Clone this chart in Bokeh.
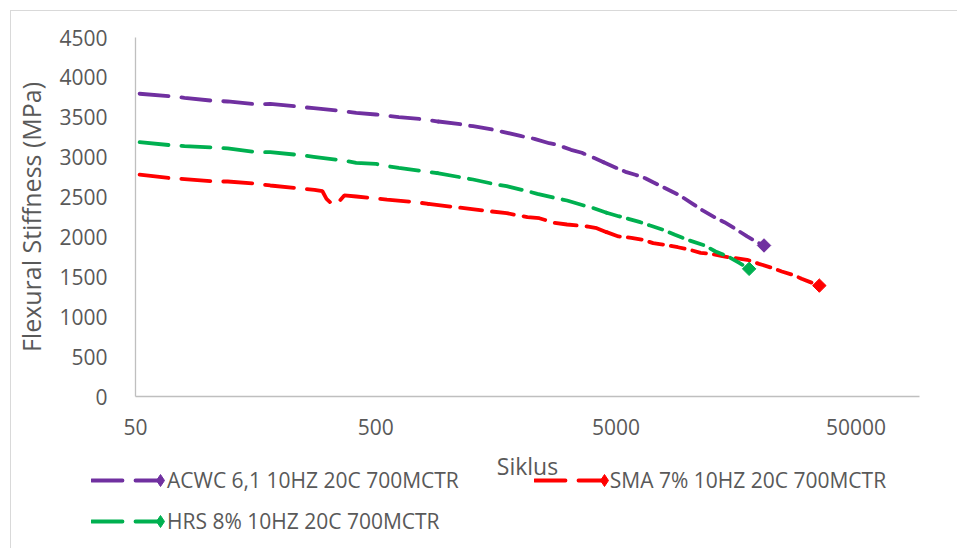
import numpy as np
from bokeh.plotting import figure
from bokeh.layouts import column
from bokeh.models import (Legend, LegendItem, FixedTicker, Range1d,
                          NumeralTickFormatter)
from bokeh.embed import file_html
from bokeh.resources import INLINE

# Flexural stiffness (MPa) against load cycles (siklus), 10 Hz, 20 C, 700 microstrain
acwc_cycles = [52, 70, 80, 105, 121, 161, 182, 235, 276, 367, 415, 501, 624, 806,
               912, 1123, 1271, 1522, 1689, 2023, 2289, 2639, 2847, 3252, 3608,
               4043, 4444, 5124, 5530, 6022, 6621, 7144, 7856, 9230, 10440, 11480,
               12860, 14140, 15700, 17590, 19350, 20680]
acwc_stiffness = [3795, 3764, 3744, 3707, 3698, 3660, 3669, 3635, 3614, 3576, 3556,
                  3535, 3501, 3472, 3447, 3413, 3388, 3347, 3318, 3263, 3230, 3175,
                  3155, 3092, 3055, 2992, 2937, 2854, 2812, 2779, 2736, 2686, 2624,
                  2520, 2415, 2332, 2248, 2185, 2102, 2006, 1934, 1893]

sma_cycles = [52, 70, 80, 107, 121, 161, 182, 242, 278, 300, 312, 324, 343, 370, 415,
              487, 557, 733, 829, 1071, 1235, 1522, 1755, 2141, 2400, 2767, 3129,
              3784, 4161, 4574, 5124, 5799, 6496, 7144, 7856, 9056, 10150, 11260,
              12380, 13870, 15260, 17590, 19710, 22300, 24520, 27740, 29650, 35150]
sma_stiffness = [2780, 2736, 2724, 2695, 2695, 2666, 2645, 2607, 2591, 2573, 2478,
                 2432, 2407, 2520, 2507, 2486, 2469, 2436, 2415, 2373, 2353, 2319,
                 2298, 2248, 2235, 2177, 2156, 2131, 2110, 2060, 2006, 1989, 1964,
                 1922, 1905, 1871, 1839, 1801, 1789, 1759, 1739, 1714, 1663, 1613,
                 1567, 1517, 1475, 1390]

hrs_cycles = [52, 70, 80, 107, 121, 161, 182, 235, 276, 367, 415, 501, 552, 624, 791,
              903, 1123, 1271, 1566, 1755, 2082, 2355, 2767, 3129, 3678, 4043, 4574,
              5124, 5635, 6313, 6943, 7856, 8804, 10150, 11700, 12990, 14830, 16310,
              17930]
hrs_stiffness = [3188, 3150, 3138, 3121, 3109, 3062, 3062, 3030, 3005, 2958, 2929,
                 2915, 2890, 2867, 2824, 2799, 2749, 2720, 2661, 2636, 2582, 2541,
                 2491, 2457, 2394, 2360, 2303, 2260, 2227, 2185, 2143, 2090, 2027,
                 1955, 1893, 1818, 1746, 1676, 1600]

series_names = ["ACWC 6,1 10HZ 20C 700MCTR", "SMA 7% 10HZ 20C 700MCTR",
                "HRS 8% 10HZ 20C 700MCTR"]
series_colors = ["#7030A0", "#FF0000", "#00B050"]
series_data = [(acwc_cycles, acwc_stiffness), (sma_cycles, sma_stiffness),
               (hrs_cycles, hrs_stiffness)]
x_ticks = [50, 500, 5000, 50000]
y_ticks = [0, 500, 1000, 1500, 2000, 2500, 3000, 3500, 4000, 4500]

TEXT = "#595959"
AXIS = "#BFBFBF"
FONT = "Open Sans"
LINE_W = 3.8
MARK = 9.5

p = figure(width=947, height=538, x_axis_type="log",
           x_range=Range1d(50, 91800), y_range=Range1d(0, 4500),
           output_backend="svg", toolbar_location=None,
           min_border_left=116, min_border_right=39,
           min_border_top=26, min_border_bottom=153)
p.styles = {"border-left": "1px solid #d9d9d9", "border-top": "1px solid #d9d9d9"}
p.background_fill_color = "white"
p.border_fill_color = "white"
p.outline_line_color = None
p.grid.visible = False

for ax in (p.xaxis[0], p.yaxis[0]):
    ax.axis_line_color = AXIS
    ax.axis_line_width = 1.3
    ax.major_tick_line_color = None
    ax.minor_tick_line_color = None
    ax.major_label_text_font = FONT
    ax.major_label_text_font_size = "21px"
    ax.major_label_text_color = TEXT
    ax.axis_label_text_font = FONT
    ax.axis_label_text_font_style = "normal"
    ax.axis_label_text_color = TEXT

p.xaxis.ticker = FixedTicker(ticks=x_ticks, minor_ticks=[])
p.xaxis.formatter = NumeralTickFormatter(format="0")
p.xaxis.major_label_standoff = 16
p.xaxis.axis_label = "Siklus"
p.xaxis.axis_label_text_font_size = "23px"
p.xaxis.axis_label_standoff = 12

p.yaxis.ticker = FixedTicker(ticks=y_ticks, minor_ticks=[])
p.yaxis.major_label_standoff = 22
p.yaxis.axis_label = "Flexural Stiffness (MPa)"
p.yaxis.axis_label_text_font_size = "25px"
p.yaxis.axis_label_standoff = 8

# dash pattern tightens where the record gets dense on the log scale
pieces = [(0, 1000, "29 13"), (1000, 5000, "22 10"), (5000, 1e9, "14 8")]

def draw(cycles, stiffness, color):
    cyc = np.asarray(cycles, dtype=float)
    stf = np.asarray(stiffness, dtype=float)
    for lo, hi, dash in pieces:
        idx = np.where((cyc >= lo) & (cyc < hi))[0]
        if len(idx) == 0:
            continue
        start = max(idx[0] - 1, 0)
        sl = slice(start, idx[-1] + 1)
        p.line(cyc[sl], stf[sl], line_color=color, line_width=LINE_W,
               line_dash=dash, line_cap="round")
    # marker only on the final reading
    p.scatter([cyc[-1]], [stf[-1]], marker="square", size=MARK,
              angle=np.pi / 4, fill_color=color, line_color=color)

for (cyc, stf), color in zip(series_data, series_colors):
    draw(cyc, stf, color)

# legend strip laid over the bottom of the chart; its glyphs reuse the series
# data, which sits outside this strip's own (unit) ranges
LEG_H = 85
lf = figure(width=947, height=LEG_H, x_range=Range1d(0, 1), y_range=Range1d(0, 1),
            output_backend="svg", toolbar_location=None,
            x_axis_location=None, y_axis_location=None,
            min_border=0, min_border_left=0, min_border_right=0,
            min_border_top=0, min_border_bottom=0)
lf.frame_align = False
lf.styles = {"margin-top": f"-{LEG_H}px", "margin-left": "1px"}
lf.outline_line_color = None
lf.grid.visible = False
lf.background_fill_alpha = 0
lf.border_fill_alpha = 0

line_items, mark_items = [], []
for name, color, (cyc, stf) in zip(series_names, series_colors, series_data):
    ln = lf.line(cyc, stf, line_color=color, line_width=LINE_W,
                 line_dash="31 13", line_cap="round")
    mk = lf.scatter(cyc[-1:], stf[-1:], marker="diamond", size=14,
                    fill_color=color, line_color=color)
    line_items.append(LegendItem(label=name, renderers=[ln]))
    mark_items.append(LegendItem(label="\u00a0", renderers=[mk]))

def make_legend(its, loc, glyph_w=72, glyph_h=20, standoff=4, text_alpha=1.0):
    return Legend(items=its, location=loc, orientation="horizontal",
                  glyph_width=glyph_w, glyph_height=glyph_h, label_standoff=standoff,
                  spacing=75, padding=0, margin=0,
                  border_line_color=None, background_fill_alpha=0,
                  label_text_font=FONT, label_text_font_size="21px",
                  label_text_color=TEXT, label_text_alpha=text_alpha)

# line keys with their labels
lf.add_layout(make_legend([line_items[0], line_items[1]], (80, 54)), "center")
lf.add_layout(make_legend([line_items[2]], (80, 13)), "center")
# marker keys sit at the right end of each line key
for item, loc in zip(mark_items, [(134, 53), (578, 53), (134, 12)]):
    lf.add_layout(make_legend([item], loc, glyph_w=30, glyph_h=30, standoff=0,
                              text_alpha=0.0), "center")

page = column(p, lf, styles={"margin-left": "10px", "margin-top": "10px"})

open("out.html", "w").write(file_html(page, INLINE))
